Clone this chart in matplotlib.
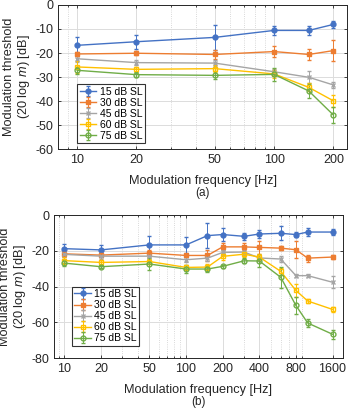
import numpy as np
import matplotlib
matplotlib.use("Agg")
from matplotlib import pyplot as plt
from matplotlib import ticker

plt.rcParams['font.family'] = ['Liberation Sans', 'DejaVu Sans']
plt.rcParams['axes.unicode_minus'] = False
plt.rcParams['mathtext.fontset'] = 'custom'
plt.rcParams['mathtext.it'] = 'Liberation Sans:italic'

# data
labels = ["15 dB SL", "30 dB SL", "45 dB SL", "60 dB SL", "75 dB SL"]
colors = ["#4472C4", "#ED7D31", "#A5A5A5", "#FFC000", "#70AD47"]
markers = ["o", "s", "x", "s", "o"]
filled = [True, True, True, False, False]

freq_a = [10, 20, 50, 100, 150, 200]
a15 = [-16.8, -15.3, -13.5, -10.6, -10.6, -8.1]
a30 = [-20.4, -20.1, -20.6, -19.4, -20.6, -19.0]
a45 = [-22.4, -24.0, -24.2, -27.8, -30.1, -33.3]
a60 = [-25.8, -26.8, -26.5, -28.7, -34.3, -39.9]
a75 = [-27.2, -29.0, -29.3, -28.9, -35.8, -45.8]
ea15 = [3.3, 3.0, 5.2, 2.0, 1.7, 1.5]
ea30 = [1.0, 0.8, 1.7, 2.4, 2.3, 4.5]
ea45 = [1.3, 1.0, 1.4, 1.2, 2.5, 1.2]
ea60 = [2.5, 1.0, 1.4, 1.5, 1.7, 2.4]
ea75 = [1.5, 1.0, 1.7, 2.8, 3.0, 3.2]

freq_b = [10, 20, 50, 100, 150, 200, 300, 400, 600, 800, 1000, 1600]
b15 = [-18.8, -19.5, -16.7, -16.7, -11.5, -10.9, -11.9, -10.6, -10.2, -10.9, -9.5, -9.5]
b30 = [-21.7, -22.4, -21.3, -22.6, -22.6, -17.8, -17.8, -18.1, -18.5, -19.4, -24.1, -23.5]
b45 = [-22.0, -23.0, -23.0, -25.0, -24.1, -20.9, -20.7, -24.0, -24.6, -33.9, -33.9, -37.6]
b60 = [-25.5, -26.5, -26.0, -29.3, -29.1, -23.1, -21.9, -23.5, -31.5, -42.2, -48.1, -52.8]
b75 = [-26.9, -28.9, -27.4, -30.2, -30.2, -28.7, -25.6, -25.7, -34.8, -50.6, -60.4, -66.7]
eb15 = [2.8, 2.8, 5.0, 4.6, 7.0, 3.5, 2.0, 2.0, 4.0, 1.5, 2.0, 1.5]
eb30 = [1.5, 1.0, 2.0, 1.0, 3.0, 2.0, 2.0, 3.5, 1.0, 4.8, 2.0, 1.0]
eb45 = [1.5, 1.5, 1.5, 1.5, 1.5, 1.5, 1.5, 1.5, 1.5, 1.0, 1.0, 3.4]
eb60 = [2.0, 1.5, 1.5, 1.5, 1.5, 2.0, 1.5, 1.5, 2.0, 3.5, 1.0, 1.5]
eb75 = [1.5, 1.0, 3.2, 2.0, 1.5, 1.0, 1.5, 3.5, 6.0, 4.5, 2.0, 2.5]

xticks_a = [10, 20, 50, 100, 200]
xticks_b = [10, 20, 50, 100, 200, 400, 800, 1600]
yticks_a = [0, -10, -20, -30, -40, -50, -60]
yticks_b = [0, -20, -40, -60, -80]

fig = plt.figure(figsize=(3.5, 4.12), dpi=100)
ax1 = fig.add_axes([0.166, 0.638, 0.826, 0.350])
ax2 = fig.add_axes([0.154, 0.131, 0.826, 0.347])


def draw(ax, freq, series, errs, xticks, yticks, xlim, ylim, leg_anchor, tag):
    for y, e, c, m, f, lab in zip(series, errs, colors, markers, filled, labels):
        ax.errorbar(freq, y, yerr=e, color=c, marker=m, ms=3.5, lw=1.0,
                    mfc=c if f else 'none', mew=1.0, elinewidth=0.7,
                    capsize=1.5, capthick=0.7, label=lab)
    ax.set_xscale('log')
    ax.set_xlim(xlim)
    ax.set_ylim(ylim)
    ax.xaxis.set_major_locator(ticker.FixedLocator(xticks))
    ax.xaxis.set_major_formatter(ticker.FixedFormatter([str(t) for t in xticks]))
    ax.xaxis.set_minor_locator(ticker.LogLocator(base=10, subs=np.arange(2, 10), numticks=20))
    ax.xaxis.set_minor_formatter(ticker.NullFormatter())
    ax.set_yticks(yticks)
    ax.grid(True, which='major', color='#dcdcdc', lw=0.7)
    ax.grid(True, which='minor', axis='x', color='#cccccc', lw=0.6, ls=':')
    ax.set_axisbelow(True)
    ax.tick_params(which='both', direction='in', top=True, right=True,
                   labelsize=9, colors='#262626', length=2.5, width=0.6)
    ax.tick_params(which='minor', length=1.5)
    for s in ax.spines.values():
        s.set_color('#262626')
        s.set_linewidth(0.7)
    ax.set_xlabel("Modulation frequency [Hz]", fontsize=9.2, color='#262626', labelpad=6.5)
    ax.set_ylabel("Modulation threshold\n(20 log $m$) [dB]", fontsize=9.2,
                  color='#262626', labelpad=2, linespacing=1.1)
    leg = ax.legend(loc='lower left', bbox_to_anchor=leg_anchor, fontsize=7.5,
                    frameon=True, fancybox=False, edgecolor='black',
                    handlelength=1.6, handletextpad=0.3, borderpad=0.25,
                    labelspacing=0.1, borderaxespad=0)
    leg.get_frame().set_linewidth(0.8)
    ax.text(0.5, -0.305, tag, transform=ax.transAxes, ha='center', va='center',
            fontsize=8.5, color='#262626')


draw(ax1, freq_a, [a15, a30, a45, a60, a75], [ea15, ea30, ea45, ea60, ea75],
     xticks_a, yticks_a, (8.0, 235), (-60, 0), (0.066, 0.04), "(a)")
draw(ax2, freq_b, [b15, b30, b45, b60, b75], [eb15, eb30, eb45, eb60, eb75],
     xticks_b, yticks_b, (8.2, 1950), (-80, 0), (0.062, 0.085), "(b)")

fig.savefig("out.png", dpi=100)
